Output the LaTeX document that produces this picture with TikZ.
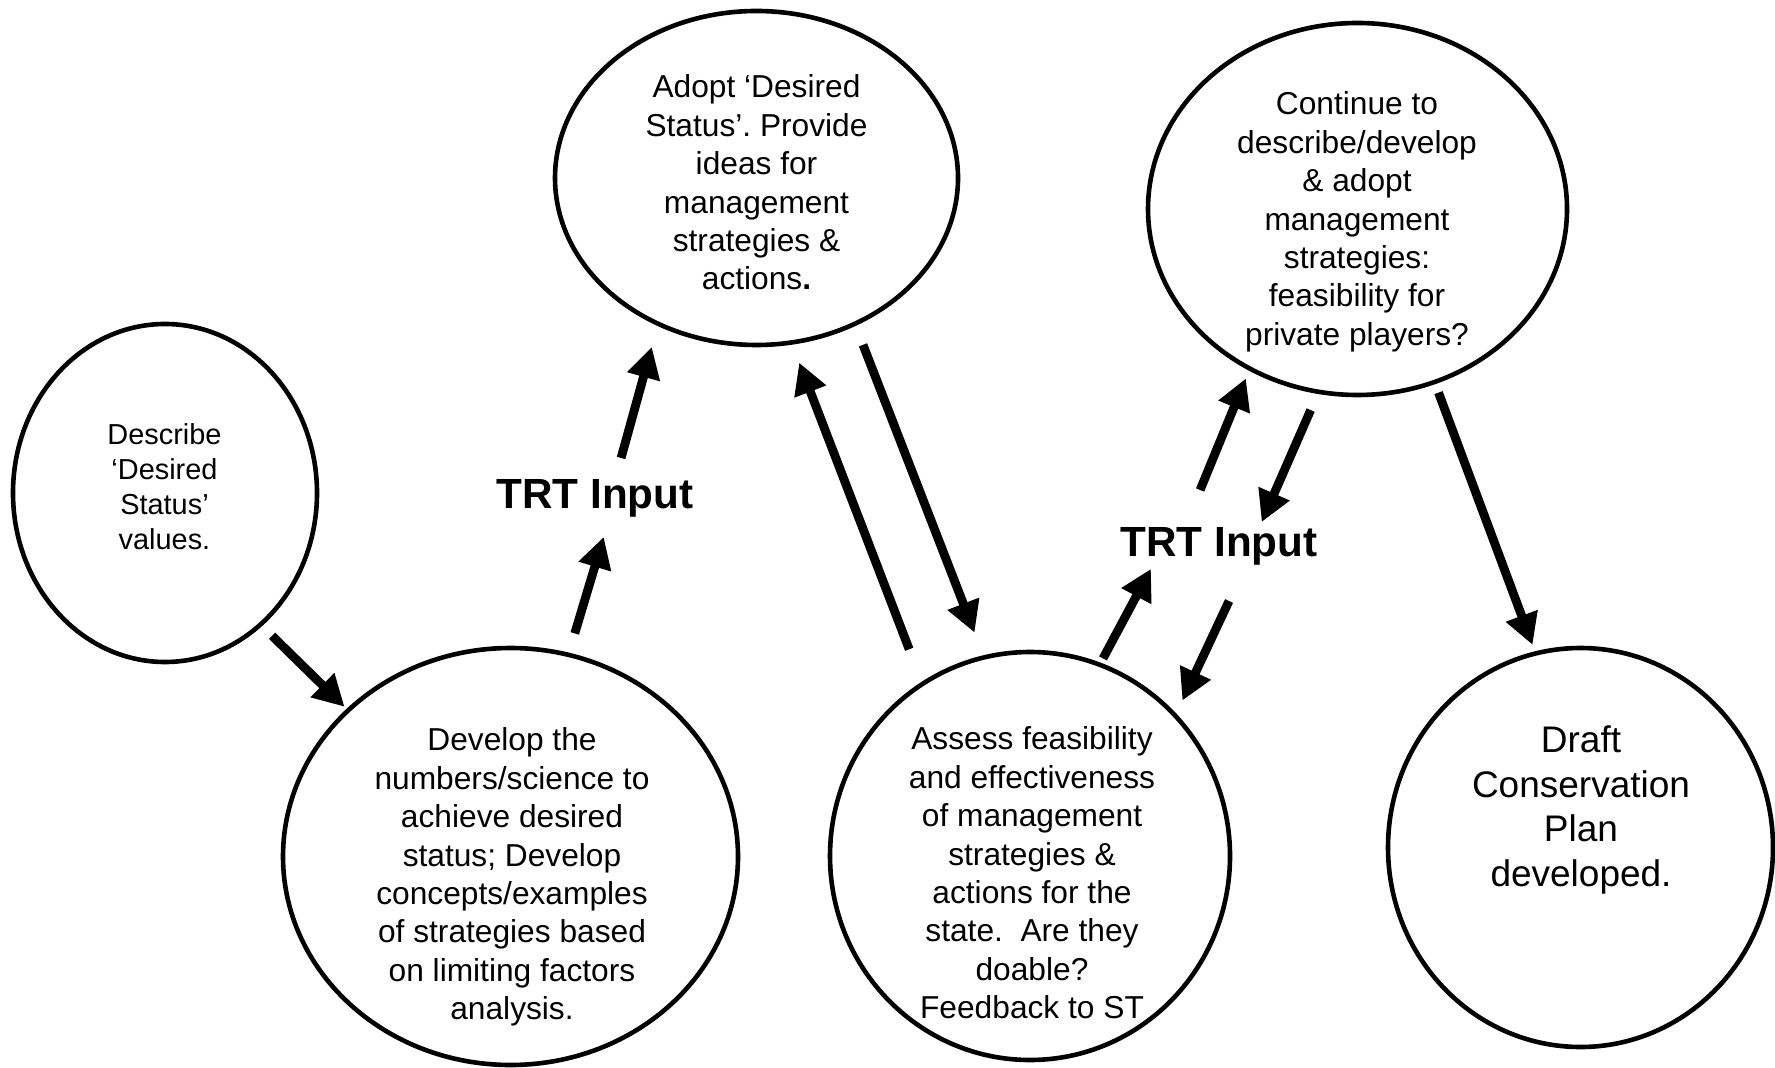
\documentclass[tikz,border=0pt]{standalone}
\usepackage{fontspec}
\setmainfont{Liberation Sans}
\usetikzlibrary{shapes.geometric,arrows.meta}
\frenchspacing

\tikzset{
  blob/.style={ellipse, draw, line width=2.3pt, inner sep=0pt, outer sep=0pt},
  txt/.style={align=center, inner sep=0pt, outer sep=0pt, anchor=north, font=\fontsize{15.85}{19.2}\selectfont},
  trt/.style={inner sep=0pt, outer sep=0pt, anchor=north, font=\fontsize{21.1}{25}\selectfont\bfseries},
  flow/.style={line width=4.4pt, -{Triangle[length=15.5pt,width=16pt]}}
}

\begin{document}
\begin{tikzpicture}[x=0.5pt,y=-0.5pt]
\useasboundingbox (0,0) rectangle (1775,1068);
\node[blob,minimum width=152pt,minimum height=169pt] at (165,493) (describe) {};
\node[blob,minimum width=201.5pt,minimum height=167pt] at (756.5,178) (adopt) {};
\node[blob,minimum width=209.5pt,minimum height=186pt] at (1357.5,209) (continue) {};
\node[blob,minimum width=227.5pt,minimum height=208.5pt] at (510.5,856.5) (develop) {};
\node[blob,minimum width=200pt,minimum height=204pt] at (1030,856) (assess) {};
\node[blob,minimum width=192.5pt,minimum height=199.5pt] at (1580.5,847.5) (draft) {};
\node[txt,font=\fontsize{14.45}{17.5}\selectfont] at (164.5,424) (describetxt) {Describe\\‘Desired\\Status’\\values.};
\node[txt] at (756.5,75) (adopttxt) {Adopt ‘Desired\\Status’. Provide\\ideas for\\management\\strategies \&\\actions\textbf{.}};
\node[txt] at (1357,92) (continuetxt) {Continue to\\describe/develop\\\& adopt\\management\\strategies:\\feasibility for\\private players?};
\node[txt] at (512,728) (developtxt) {Develop the\\numbers/science to\\achieve desired\\status; Develop\\concepts/examples\\of strategies based\\on limiting factors\\analysis.};
\node[txt] at (1032,727) (assesstxt) {Assess feasibility\\and effectiveness\\of management\\strategies \&\\actions for the\\state.~ Are they\\doable?\\Feedback to ST};
\node[txt,font=\fontsize{18.5}{22.3}\selectfont] at (1581,726) (drafttxt) {Draft\\Conservation\\Plan\\developed.};
\node[trt] at (595,479) (trtleft) {TRT Input};
\node[trt] at (1219,527) (trtright) {TRT Input};
\path[flow]
(describe.-54) edge[shorten <=8.1pt,shorten >=2.6pt] (develop.138.5)
(develop.74.6) edge[shorten <=11.2pt,shorten >=10.5pt] (trtleft.-52.2)
(trtleft.43.2) edge[shorten <=10.9pt,shorten >=12pt] (adopt.-124)
(assess.122.4) edge[shorten <=18.6pt,shorten >=10.8pt] (adopt.-78.4)
(adopt.-56.3) edge[shorten <=11.3pt,shorten >=13.3pt] (assess.103.5)
(assess.70.3) edge[shorten <=3.6pt,shorten >=2.3pt] (trtright.-164.2)
(trtright.151.9) edge[shorten <=20pt,shorten >=5.3pt] (continue.-124.2)
(continue.-102.6) edge[shorten <=10pt,shorten >=2.7pt] (trtright.25.5)
(trtright.-35.5) edge[shorten <=20pt,shorten >=8.4pt] (assess.44.2)
(continue.-66.5) edge[shorten <=5.7pt,shorten >=4.6pt] (draft.103.1)
;
\end{tikzpicture}
\end{document}
